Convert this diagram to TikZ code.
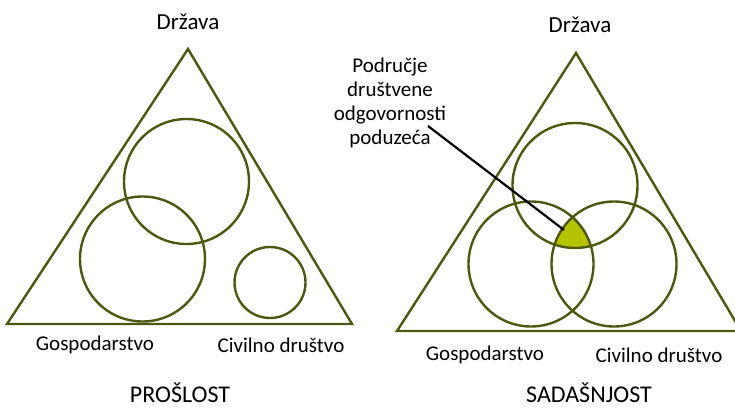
\documentclass[tikz,border=0pt]{standalone}
\usepackage{fontspec}
\setmainfont{Carlito}
\usepackage{xcolor}
\usetikzlibrary{positioning}
\definecolor{olive}{HTML}{4D5710}
\definecolor{csrfill}{HTML}{B4C400}

\begin{document}
\begin{tikzpicture}[x=1pt, y=-1pt,
    ring/.style={circle, draw=olive, line width=2.4pt, inner sep=0pt},
    tri/.style={draw=olive, line width=2.4pt, line join=miter},
    lbl/.style={font=\fontsize{21}{24}\selectfont, inner sep=1pt},
    apexlbl/.style={font=\fontsize{23}{26}\selectfont, inner sep=1pt},
    title/.style={font=\fontsize{24}{28}\selectfont, inner sep=0pt, anchor=base},
    pointer/.style={draw=black, line width=2.2pt}
]
    \useasboundingbox (0,0) rectangle (735,409);

    % Past
    \coordinate (pastTop) at (188,49);
    \coordinate (pastLeft) at (7,324);
    \coordinate (pastRight) at (352,324);
    \draw[tri] (pastTop) -- (pastLeft) -- (pastRight) -- cycle;
    \node[ring, minimum size=125pt] (pastState) at (186.5,181.5) {};
    \node[ring, minimum size=125pt] (pastEcon) at (142.5,259) {};
    \node[ring, minimum size=71pt] (pastCivil) at (270,282.5) {};
    \node[apexlbl] (pastStateLbl) at (188,22) {Država};
    \node[lbl] (pastEconLbl) at (95,345) {Gospodarstvo};
    \node[lbl] (pastCivilLbl) at (281,345) {Civilno društvo};
    \node[title] (pastTitle) at (180,402) {PROŠLOST};

    % Present
    \coordinate (nowTop) at (576,53);
    \coordinate (nowLeft) at (397,331);
    \coordinate (nowRight) at (741,331);
    \begin{scope}
        \clip (575,185.5) circle[radius=62.5pt];
        \clip (531,264) circle[radius=62.5pt];
        \fill[csrfill] (614,264) circle[radius=62.5pt];
    \end{scope}
    \draw[tri] (nowTop) -- (nowLeft) -- (nowRight) -- cycle;
    \node[ring, minimum size=125pt] (nowState) at (575,185.5) {};
    \node[ring, minimum size=125pt] (nowEcon) at (531,264) {};
    \node[ring, minimum size=125pt] (nowCivil) at (614,264) {};
    \node[apexlbl] (nowStateLbl) at (580,25) {Država};
    \node[lbl] (nowEconLbl) at (485,355) {Gospodarstvo};
    \node[lbl] (nowCivilLbl) at (659,355) {Civilno društvo};
    \node[title] (nowTitle) at (589,402) {SADAŠNJOST};

    % Callout
    \node[lbl, align=center] (csr) at (390,103) {Područje\\društvene\\odgovornosti\\poduzeća};
    \coordinate (csrFrom) at (428,126);
    \coordinate (csrTo) at (564,230);
    \draw[pointer] (csrFrom) -- (csrTo);

\end{tikzpicture}
\end{document}
